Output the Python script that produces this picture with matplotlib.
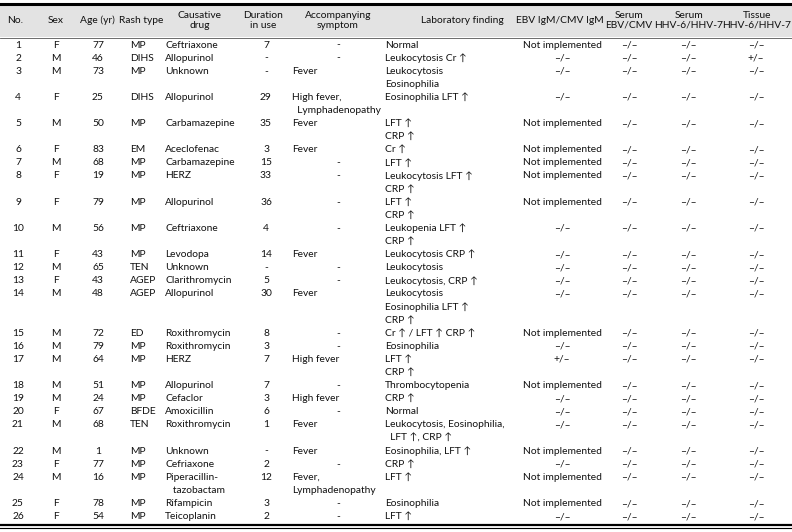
import matplotlib
matplotlib.use("Agg")
import matplotlib.pyplot as plt

plt.rcParams['font.family'] = ['Lato', 'DejaVu Sans']

# table data
headers = ["No.", "Sex", "Age (yr)", "Rash type", "Causative\ndrug", "Duration\nin use",
           "Accompanying\nsymptom", "Laboratory finding", "EBV IgM/CMV IgM",
           "Serum\nEBV/CMV", "Serum\nHHV-6/HHV-7", "Tissue\nHHV-6/HHV-7"]
sex = ["F", "M", "M", "F", "M", "F", "M", "F", "F", "M", "F", "M", "F",
       "M", "M", "M", "M", "M", "M", "F", "M", "M", "F", "M", "F", "F"]
age = [77, 46, 73, 25, 50, 83, 68, 19, 79, 56, 43, 65, 43,
       48, 72, 79, 64, 51, 24, 67, 68, 1, 77, 16, 78, 54]
rash = ["MP", "DIHS", "MP", "DIHS", "MP", "EM", "MP", "MP", "MP", "MP", "MP", "TEN", "AGEP",
        "AGEP", "ED", "MP", "MP", "MP", "MP", "BFDE", "TEN", "MP", "MP", "MP", "MP", "MP"]
drug = ["Ceftriaxone", "Allopurinol", "Unknown", "Allopurinol", "Carbamazepine", "Aceclofenac",
        "Carbamazepine", "HERZ", "Allopurinol", "Ceftriaxone", "Levodopa", "Unknown",
        "Clarithromycin", "Allopurinol", "Roxithromycin", "Roxithromycin", "HERZ", "Allopurinol",
        "Cefaclor", "Amoxicillin", "Roxithromycin", "Unknown", "Cefriaxone",
        "Piperacillin-\n   tazobactam", "Rifampicin", "Teicoplanin"]
duration = ["7", "-", "-", "29", "35", "3", "15", "33", "36", "4", "14", "-", "5",
            "30", "8", "3", "7", "7", "3", "6", "1", "-", "2", "12", "3", "2"]
symptom = ["-", "-", "Fever", "High fever,\n  Lymphadenopathy", "Fever", "Fever", "-", "-", "-",
           "-", "Fever", "-", "-", "Fever", "-", "-", "High fever", "-", "High fever", "-",
           "Fever", "Fever", "-", "Fever,\nLymphadenopathy", "-", "-"]
lab = ["Normal", "Leukocytosis Cr \u2191", "Leukocytosis\nEosinophilia", "Eosinophilia LFT \u2191",
       "LFT \u2191\nCRP \u2191", "Cr \u2191", "LFT \u2191", "Leukocytosis LFT \u2191\nCRP \u2191",
       "LFT \u2191\nCRP \u2191", "Leukopenia LFT \u2191\nCRP \u2191", "Leukocytosis CRP \u2191",
       "Leukocytosis", "Leukocytosis, CRP \u2191",
       "Leukocytosis\nEosinophilia LFT \u2191\nCRP \u2191", "Cr \u2191 / LFT \u2191 CRP \u2191",
       "Eosinophilia", "LFT \u2191\nCRP \u2191", "Thrombocytopenia", "CRP \u2191", "Normal",
       "Leukocytosis, Eosinophilia,\n  LFT \u2191, CRP \u2191", "Eosinophilia, LFT \u2191",
       "CRP \u2191", "LFT \u2191", "Eosinophilia", "LFT \u2191"]
NI = "Not implemented"
NEG = "\u2013/\u2013"
ebv = [NI, NEG, NEG, NEG, NI, NI, NI, NI, NI, NEG, NEG, NEG, NEG,
       NEG, NI, NEG, "+/\u2013", NI, NEG, NEG, NEG, NI, NEG, NI, NI, NEG]
serum_ebv = [NEG] * 26
serum_hhv = [NEG] * 26
tissue = [NEG, "+/\u2013"] + [NEG] * 24

fig = plt.figure(figsize=(7.92, 5.32), dpi=100)
ax = fig.add_axes([0, 0, 1, 1])
ax.set_xlim(0, 792)
ax.set_ylim(532, 0)
ax.axis("off")

fs = 7.4
col = "#111111"
# header band and rules
ax.axhspan(4, 37, color="#e3e3e3", lw=0)
ax.plot([0, 792], [3.5, 3.5], color="black", lw=2.2)
ax.plot([0, 792], [37.5, 37.5], color="#555555", lw=0.6)
ax.plot([0, 792], [524.5, 524.5], color="black", lw=1.6)
ax.plot([0, 792], [528, 528], color="black", lw=0.8)

head_x = [15, 56, 97, 141, 200, 263, 338, 462, 560, 629, 689, 757]
for h, x in zip(headers, head_x):
    ax.text(x, 20.5, h, ha="center", va="center", fontsize=fs, color=col, linespacing=1.1)

columns = [
    ([str(i + 1) for i in range(26)], 18, "center"),
    (sex, 56, "center"),
    ([str(a) for a in age], 98, "center"),
    (rash, 130, "left"),
    (drug, 165, "left"),
    (duration, 266, "center"),
    (symptom, 292, "left"),
    (lab, 385, "left"),
    (ebv, 562, "center"),
    (serum_ebv, 629, "center"),
    (serum_hhv, 688, "center"),
    (tissue, 756, "center"),
]

step = 13.1
y = 45
for r in range(26):
    nlines = 1
    for vals, x, ha in columns:
        lines = vals[r].split("\n")
        nlines = max(nlines, len(lines))
        for k, line in enumerate(lines):
            xx, hh = x, ha
            if line == "-" and ha == "left":
                xx, hh = 338, "center"
            ax.text(xx, y + k * step, line, ha=hh, va="center", fontsize=fs, color=col)
    y += nlines * step

fig.savefig("out.png", dpi=100)
